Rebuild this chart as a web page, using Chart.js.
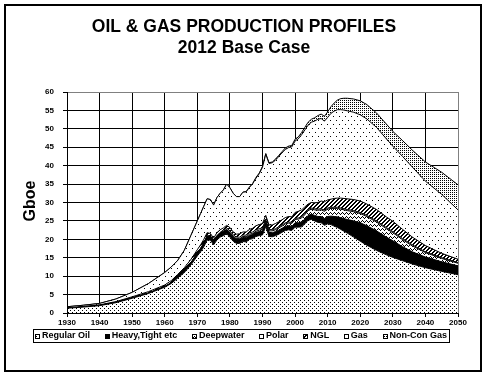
<!DOCTYPE html>
<html>
<head>
<meta charset="utf-8">
<script src="https://cdn.jsdelivr.net/npm/chart.js@4.4.1/dist/chart.umd.min.js"></script>
<style>
  html, body { margin: 0; padding: 0; background: #fff; }
  #wrap { width: 488px; height: 378px; }
</style>
</head>
<body>
<div id="wrap"><canvas id="chart" width="488" height="378"></canvas></div>
<script>
// Years (irregular spacing, x axis is linear)
const years = [1930, 1935, 1940, 1945, 1950, 1955, 1960, 1962, 1964, 1966, 1968,
  1970, 1971, 1972, 1973, 1974, 1975, 1976, 1977, 1978, 1979,
  1980, 1981, 1982, 1983, 1984, 1985, 1986, 1987, 1988, 1989,
  1990, 1991, 1992, 1993, 1994, 1995, 1996, 1997, 1998, 1999,
  2000, 2001, 2002, 2003, 2004, 2005, 2006, 2007, 2008, 2009,
  2010, 2011, 2012, 2013, 2014, 2015, 2016,
  2018, 2020, 2022, 2025, 2028, 2030, 2033, 2036, 2040, 2045, 2050];

// Gboe per layer (stacked bottom to top)
const regularOil = [1.3, 1.6, 2.0, 2.8, 4.0, 5.3, 7.0, 8.0, 9.5, 11.0, 13.0,
  15.5, 16.6, 18.0, 19.8, 19.8, 18.5, 19.8, 20.6, 21.0, 21.5,
  20.6, 19.5, 18.9, 18.9, 19.4, 19.3, 20.0, 20.2, 20.8, 21.0,
  21.2, 23.5, 20.8, 20.7, 21.0, 21.4, 21.9, 22.4, 22.6, 22.4,
  23.3, 23.3, 23.4, 24.2, 25.2, 25.4, 25.0, 24.6, 24.5, 23.8,
  24.2, 24.0, 23.6, 23.2, 22.7, 22.2, 21.7,
  20.6, 19.5, 18.4, 17.0, 15.8, 15.1, 14.2, 13.3, 12.3, 11.3, 10.4];
const heavyTight = [0, 0, 0.1, 0.1, 0.1, 0.1, 0.2, 0.2, 0.3, 0.4, 0.6,
  0.8, 0.9, 1.0, 1.1, 1.1, 1.1, 1.1, 1.1, 1.1, 1.1,
  1.1, 1.1, 1.1, 1.1, 1.1, 1.1, 1.1, 1.1, 1.1, 1.1,
  1.1, 1.1, 1.1, 1.1, 1.1, 1.1, 1.1, 1.1, 1.1, 1.1,
  1.2, 1.2, 1.3, 1.3, 1.3, 1.4, 1.5, 1.6, 1.7, 1.8,
  2.0, 2.3, 2.6, 2.9, 3.2, 3.4, 3.7,
  4.4, 5.0, 5.3, 5.3, 4.8, 4.5, 3.8, 3.3, 2.9, 2.6, 2.4];
const deepwater = [0, 0, 0, 0, 0, 0, 0, 0, 0, 0, 0,
  0, 0, 0, 0, 0, 0, 0, 0, 0.1, 0.1,
  0.2, 0.2, 0.2, 0.2, 0.3, 0.3, 0.3, 0.3, 0.3, 0.4,
  0.4, 0.4, 0.4, 0.5, 0.5, 0.6, 0.6, 0.7, 0.7, 0.8,
  0.9, 1.0, 1.1, 1.2, 1.3, 1.4, 1.5, 1.7, 1.8, 2.0,
  2.0, 2.1, 2.2, 2.3, 2.3, 2.4, 2.4,
  2.5, 2.5, 2.5, 2.4, 2.3, 2.2, 1.9, 1.6, 1.2, 0.9, 0.7];
const polar = [0, 0, 0, 0, 0, 0, 0, 0, 0, 0, 0,
  0, 0, 0, 0, 0, 0, 0.1, 0.2, 0.3, 0.4,
  0.4, 0.4, 0.4, 0.4, 0.4, 0.4, 0.4, 0.4, 0.4, 0.4,
  0.4, 0.4, 0.4, 0.3, 0.3, 0.3, 0.3, 0.3, 0.3, 0.3,
  0.3, 0.3, 0.3, 0.3, 0.3, 0.3, 0.3, 0.3, 0.3, 0.3,
  0.3, 0.3, 0.3, 0.3, 0.3, 0.3, 0.3,
  0.3, 0.3, 0.3, 0.3, 0.3, 0.3, 0.3, 0.3, 0.2, 0.2, 0.2];
const ngl = [0.1, 0.2, 0.1, 0.2, 0.3, 0.4, 0.4, 0.6, 0.7, 0.9, 0.9,
  0.9, 1.0, 1.0, 0.9, 0.7, 0.7, 0.8, 0.7, 0.6, 0.7,
  0.9, 0.8, 0.8, 0.9, 0.8, 0.9, 0.9, 1.0, 1.1, 1.1,
  1.2, 1.1, 1.2, 1.3, 1.4, 1.4, 1.4, 1.4, 1.5, 1.5,
  1.6, 1.8, 1.9, 1.8, 1.5, 1.5, 1.6, 1.8, 2.1, 2.3,
  2.2, 2.2, 2.4, 2.5, 2.7, 2.8, 2.9,
  3.0, 3.1, 3.1, 3.1, 2.9, 2.8, 2.5, 2.1, 1.7, 1.2, 0.9];
const gas = [0.3, 0.3, 0.4, 0.7, 1.2, 2.2, 3.4, 3.7, 3.8, 4.7, 6.5,
  7.8, 8.5, 9.0, 9.2, 9.2, 9.0, 9.5, 9.9, 10.3, 11.2,
  10.8, 10.5, 10.2, 10.1, 10.8, 10.9, 11.4, 12.1, 12.9, 13.8,
  15.3, 16.6, 16.7, 16.9, 17.2, 17.7, 18.2, 18.5, 18.7, 19.0,
  19.4, 19.7, 20.4, 20.9, 21.4, 21.8, 22.2, 22.6, 22.4, 21.9,
  22.4, 23.3, 23.7, 24.0, 24.0, 24.0, 23.9,
  23.7, 23.4, 23.1, 22.3, 21.2, 20.4, 19.8, 19.0, 17.5, 16.0, 13.4];
const nonConGas = [0, 0, 0, 0, 0, 0, 0, 0, 0, 0, 0,
  0, 0, 0, 0, 0, 0, 0, 0, 0, 0,
  0, 0, 0, 0, 0, 0.1, 0.1, 0.1, 0.2, 0.2,
  0.2, 0.2, 0.2, 0.2, 0.3, 0.3, 0.3, 0.4, 0.4, 0.4,
  0.5, 0.5, 0.6, 0.7, 0.8, 0.8, 0.9, 1.0, 1.2, 1.3,
  1.5, 1.8, 2.2, 2.6, 3.0, 3.2, 3.4,
  3.6, 3.8, 3.9, 3.9, 4.0, 4.0, 4.3, 4.6, 5.2, 6.0, 6.8];

const seriesNames = ['Regular Oil', 'Heavy,Tight etc', 'Deepwater', 'Polar', 'NGL', 'Gas', 'Non-Con Gas'];
const seriesValues = [regularOil, heavyTight, deepwater, polar, ngl, gas, nonConGas];

const FONT = '"Liberation Sans", Arial, sans-serif';
const canvas = document.getElementById('chart');
const mainCtx = canvas.getContext('2d');

// small black & white fill patterns
function makePattern(w, h, isInk) {
    const c = document.createElement('canvas');
    c.width = w; c.height = h;
    const g = c.getContext('2d');
    g.fillStyle = '#fff';
    g.fillRect(0, 0, w, h);
    g.fillStyle = '#000';
    for (let y = 0; y < h; y++) {
        for (let x = 0; x < w; x++) {
            if (isInk(x, y)) g.fillRect(x, y, 1, 1);
        }
    }
    return mainCtx.createPattern(c, 'repeat');
}

const fills = [
    makePattern(4, 4, (x, y) => (x === 0 && y === 0) || (x === 2 && y === 2)),      // regular oil
    '#000',                                                                          // heavy
    makePattern(4, 4, (x, y) => [2, 1, 0, 1][x] === y),                              // deepwater zigzag
    '#fff',                                                                          // polar
    makePattern(4, 4, (x, y) => (x + y) % 4 < 2),                                    // NGL hatch
    makePattern(6, 8, (x, y) => (x === 0 && y === 0) || (x === 3 && y === 4)),      // gas sparse dots
    makePattern(2, 2, (x, y) => x === 0 && y === 0)                                  // non-con dense dots
];

const datasets = seriesValues.map((vals, i) => ({
    label: seriesNames[i],
    data: vals.map((v, j) => ({ x: years[j], y: v })),
    backgroundColor: fills[i],
    borderColor: '#000',
    borderWidth: 1,
    pointRadius: 0,
    tension: 0,
    fill: i === 0 ? 'origin' : '-1'
}));

const framePlugin = {
    id: 'frame',
    afterDatasetsDraw(chart) {
        const ctx = chart.ctx;
        const a = chart.chartArea;
        ctx.save();
        ctx.strokeStyle = '#000';
        ctx.lineWidth = 1;
        ctx.beginPath();
        ctx.moveTo(67.5, a.top);
        ctx.lineTo(67.5, 313.5);
        ctx.lineTo(a.right, 313.5);
        ctx.stroke();
        ctx.restore();
    },
    afterDraw(chart) {
        const ctx = chart.ctx;
        ctx.save();
        // outer frame
        ctx.strokeStyle = '#000';
        ctx.lineWidth = 2;
        ctx.strokeRect(5, 5, 476, 366);

        // titles
        ctx.fillStyle = '#000';
        ctx.textAlign = 'center';
        ctx.textBaseline = 'middle';
        ctx.font = 'bold 17.5px ' + FONT;
        ctx.fillText('OIL & GAS PRODUCTION PROFILES', 244, 27);
        ctx.fillText('2012 Base Case', 244, 48);

        // y axis title
        ctx.save();
        ctx.translate(31, 201);
        ctx.rotate(-Math.PI / 2);
        ctx.font = 'bold 16px ' + FONT;
        ctx.fillText('Gboe', 0, 0);
        ctx.restore();

        // legend
        const bx = 33, by = 329, bw = 416, bh = 13;
        ctx.lineWidth = 1;
        ctx.strokeRect(bx + 0.5, by + 0.5, bw, bh);
        ctx.font = 'bold 9px ' + FONT;
        ctx.textAlign = 'left';
        const icon = 5, iconGap = 2;
        const widths = seriesNames.map(n => icon + iconGap + ctx.measureText(n).width);
        const total = widths.reduce((s, w) => s + w, 0);
        const start = bx + 2, end = bx + bw - 2;
        const gap = (end - start - total) / (seriesNames.length - 1);
        let x = start;
        const cy = by + bh / 2 + 0.5;
        seriesNames.forEach((n, i) => {
            const ix = Math.round(x), iy = Math.round(cy - icon / 2);
            ctx.fillStyle = fills[i];
            ctx.fillRect(ix, iy, icon, icon);
            ctx.strokeStyle = '#000';
            ctx.strokeRect(ix + 0.5, iy + 0.5, icon - 1, icon - 1);
            ctx.fillStyle = '#000';
            ctx.fillText(n, x + icon + iconGap, cy);
            x += widths[i] + gap;
        });
        ctx.restore();
    }
};

new Chart(canvas, {
    type: 'line',
    data: { datasets: datasets },
    options: {
        responsive: false,
        animation: false,
        events: [],
        layout: { padding: { left: 5, right: 30, top: 92, bottom: 45 } },
        plugins: {
            legend: { display: false },
            title: { display: false },
            tooltip: { enabled: false },
            filler: { propagate: false }
        },
        scales: {
            x: {
                type: 'linear',
                min: 1930,
                max: 2050,
                afterFit: s => { s.height = 20; },
                ticks: {
                    stepSize: 10,
                    autoSkip: false,
                    maxRotation: 0,
                    padding: 1,
                    color: '#000',
                    font: { family: FONT, size: 8, weight: 'bold' },
                    callback: v => v
                },
                grid: {
                    color: c => (c.tick && c.tick.value === 2050) ? '#808080' : '#000',
                    tickColor: '#000',
                    tickLength: 4,
                    lineWidth: 1
                },
                border: { display: true, color: '#000', width: 1 }
            },
            y: {
                stacked: true,
                min: 0,
                max: 60,
                afterFit: s => { s.width = 62; },
                ticks: {
                    stepSize: 5,
                    padding: 9,
                    color: '#000',
                    font: { family: FONT, size: 8, weight: 'bold' }
                },
                grid: {
                    color: c => (c.tick && c.tick.value === 60) ? '#808080' : '#000',
                    tickColor: '#000',
                    tickLength: 4,
                    lineWidth: 1
                },
                border: { display: true, color: '#000', width: 1 }
            }
        }
    },
    plugins: [framePlugin]
});
</script>
</body>
</html>
